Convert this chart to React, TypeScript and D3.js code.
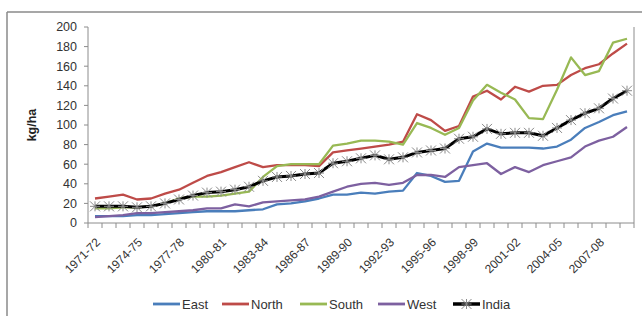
import React from 'react';
import * as d3 from 'd3';

const years = [
  '1971-72', '1972-73', '1973-74', '1974-75', '1975-76', '1976-77', '1977-78', '1978-79',
  '1979-80', '1980-81', '1981-82', '1982-83', '1983-84', '1984-85', '1985-86', '1986-87',
  '1987-88', '1988-89', '1989-90', '1990-91', '1991-92', '1992-93', '1993-94', '1994-95',
  '1995-96', '1996-97', '1997-98', '1998-99', '1999-00', '2000-01', '2001-02', '2002-03',
  '2003-04', '2004-05', '2005-06', '2006-07', '2007-08', '2008-09', '2009-10',
];

const east = [7, 7, 7, 8, 8, 9, 10, 11, 12, 12, 12, 13, 14, 19, 20, 22, 25, 29, 29, 31, 30, 32, 33, 51, 48, 42, 43, 73, 81, 77, 77, 77, 76, 78, 85, 97, 103, 110, 114];
const north = [25, 27, 29, 24, 25, 30, 34, 41, 48, 52, 57, 62, 57, 59, 59, 59, 58, 72, 74, 76, 78, 80, 83, 111, 105, 94, 99, 129, 135, 126, 139, 134, 140, 141, 151, 158, 162, 173, 183];
const south = [15, 15, 16, 16, 17, 20, 25, 27, 27, 28, 30, 32, 47, 58, 60, 60, 60, 79, 81, 84, 84, 83, 80, 102, 97, 90, 97, 125, 141, 133, 126, 107, 106, 136, 169, 151, 155, 184, 188];
const west = [6, 7, 8, 10, 10, 11, 12, 13, 15, 15, 19, 17, 21, 22, 23, 24, 27, 32, 37, 40, 41, 39, 41, 49, 49, 47, 57, 59, 61, 50, 57, 52, 59, 63, 67, 78, 84, 88, 98];
const india = [17, 17, 17, 16, 17, 20, 24, 28, 31, 32, 34, 37, 43, 47, 48, 50, 51, 61, 63, 66, 69, 65, 67, 72, 74, 76, 86, 88, 96, 91, 92, 92, 89, 97, 105, 112, 117, 127, 135];

const yTicks = [0, 20, 40, 60, 80, 100, 120, 140, 160, 180, 200];
const xLabelYears = years.filter((_, i) => i % 3 === 0);

const seriesList = [
  { name: 'East', values: east, color: '#4a7ebb', width: 2.3 },
  { name: 'North', values: north, color: '#be4b48', width: 2.3 },
  { name: 'South', values: south, color: '#98b954', width: 2.3 },
  { name: 'West', values: west, color: '#7d60a0', width: 2.3 },
  { name: 'India', values: india, color: '#000000', width: 3 },
];

const font = '"Liberation Sans", Arial, sans-serif';
const axisColor = '#8c8c8c';

const Star = ({ x, y, r = 5 }: { x: number; y: number; r?: number }) => (
  <g stroke="#8a8a8a" strokeWidth={1} fill="none">
    <line x1={x - r} y1={y - r} x2={x + r} y2={y + r} />
    <line x1={x - r} y1={y + r} x2={x + r} y2={y - r} />
    <line x1={x} y1={y - r} x2={x} y2={y + r} />
    <line x1={x - r} y1={y} x2={x + r} y2={y} />
  </g>
);

export default function App() {
  const width = 642;
  const height = 316;

  const x = d3.scaleBand<string>().domain(years).range([88, 634]).padding(0);
  const cx = (d: string) => (x(d) as number) + x.bandwidth() / 2;
  const y = d3.scaleLinear().domain([0, 200]).range([223, 27]);

  const lineGen = d3
    .line<number>()
    .x((_, i) => cx(years[i]))
    .y((v) => y(v));

  const legendItems = [
    { name: 'East', x: 153 },
    { name: 'North', x: 222 },
    { name: 'South', x: 300 },
    { name: 'West', x: 378 },
    { name: 'India', x: 453 },
  ];

  return (
    <svg
      width={width}
      height={height}
      style={{ position: 'absolute', left: 0, top: 0, background: '#fff' }}
    >
      {/* outer frame */}
      <line x1={7} y1={12} x2={642} y2={12} stroke="#8a8a8a" strokeWidth={1.5} />
      <line x1={7} y1={12} x2={7} y2={316} stroke="#8a8a8a" strokeWidth={1.5} />

      {/* plot right border */}
      <line x1={634} y1={27} x2={634} y2={y(0)} stroke={axisColor} strokeWidth={1} />

      {/* y axis */}
      <line x1={88} y1={y(200)} x2={88} y2={y(0)} stroke={axisColor} strokeWidth={1} />
      {yTicks.map((t) => (
        <g key={t}>
          <line x1={84} x2={88} y1={y(t)} y2={y(t)} stroke={axisColor} />
          <text
            x={77}
            y={y(t)}
            dy="0.35em"
            textAnchor="end"
            fontFamily={font}
            fontSize={12.5}
            fill="#333"
          >
            {t}
          </text>
        </g>
      ))}
      <text
        transform={`translate(36, ${y(100)}) rotate(-90)`}
        textAnchor="middle"
        fontFamily={font}
        fontSize={12.5}
        fontWeight="bold"
        fill="#222"
      >
        kg/ha
      </text>

      {/* x axis */}
      <line x1={88} y1={y(0)} x2={634} y2={y(0)} stroke={axisColor} strokeWidth={1} />
      {years.map((d) => (
        <line
          key={d}
          x1={x(d) as number}
          x2={x(d) as number}
          y1={y(0)}
          y2={y(0) + 5}
          stroke={axisColor}
        />
      ))}
      <line x1={634} x2={634} y1={y(0)} y2={y(0) + 5} stroke={axisColor} />
      {xLabelYears.map((d) => (
        <text
          key={d}
          transform={`translate(${cx(d) + 3}, ${y(0) + 17}) rotate(-45)`}
          textAnchor="end"
          dy="0.35em"
          fontFamily={font}
          fontSize={12}
          fill="#333"
        >
          {d}
        </text>
      ))}

      {/* series */}
      {seriesList.map((s) => (
        <path
          key={s.name}
          d={lineGen(s.values) || ''}
          fill="none"
          stroke={s.color}
          strokeWidth={s.width}
          strokeLinejoin="round"
        />
      ))}
      {india.map((v, i) => (
        <Star key={i} x={cx(years[i])} y={y(v)} />
      ))}

      {/* legend */}
      {legendItems.map((item) => {
        const s = seriesList.find((q) => q.name === item.name)!;
        return (
          <g key={item.name}>
            <line
              x1={item.x}
              x2={item.x + 27}
              y1={304}
              y2={304}
              stroke={s.color}
              strokeWidth={s.width + 0.5}
            />
            {item.name === 'India' && <Star x={item.x + 13.5} y={304} />}
            <text
              x={item.x + 29}
              y={304}
              dy="0.35em"
              fontFamily={font}
              fontSize={13}
              fill="#333"
            >
              {item.name}
            </text>
          </g>
        );
      })}
    </svg>
  );
}
